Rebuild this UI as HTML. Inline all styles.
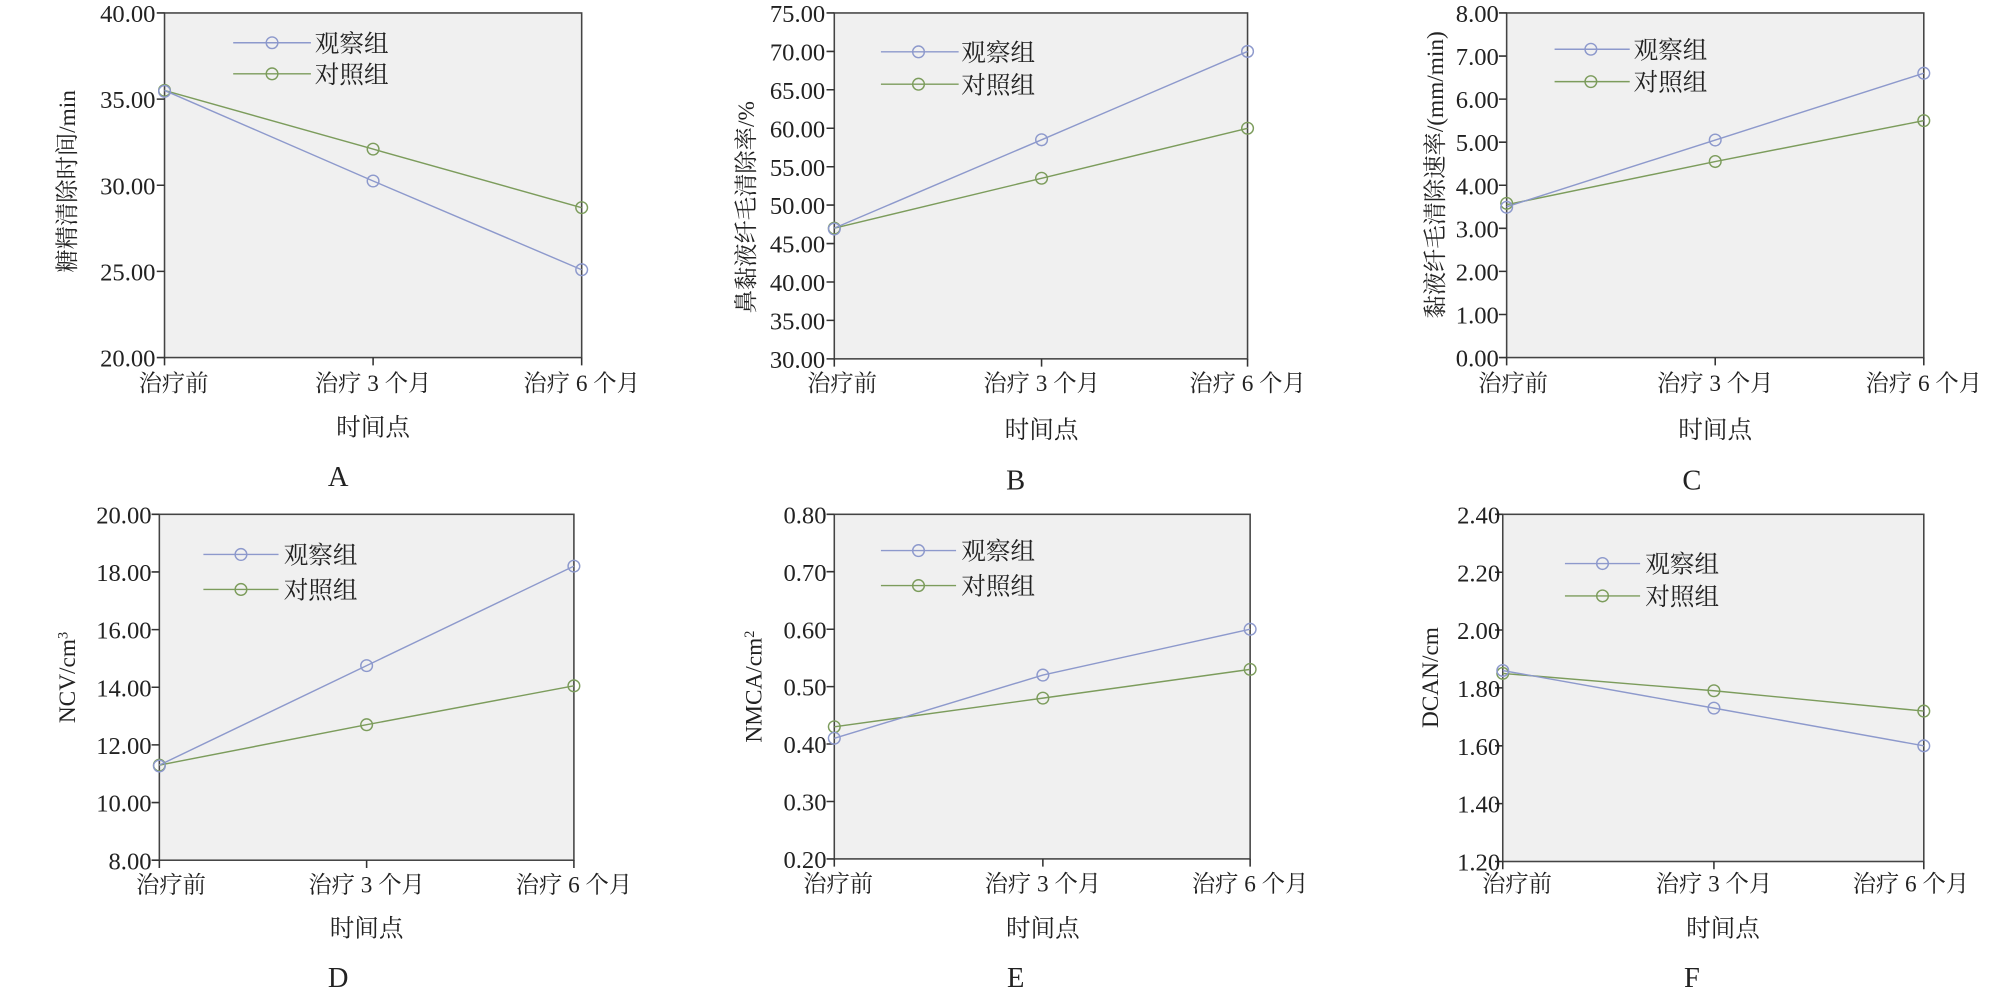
<!DOCTYPE html>
<html><head><meta charset="utf-8"><style>
html,body{margin:0;padding:0;background:#fff}
svg{display:block}
text{font-family:"Liberation Serif","Noto Serif CJK SC",serif;fill:#222}
.t{font-size:19px;text-anchor:end}
.x{font-size:18px;text-anchor:middle}
.lg{font-size:19px}
.ti{font-size:19px;text-anchor:middle}
.pl{font-size:22px;text-anchor:middle}
.yt{font-size:18px;text-anchor:middle}
.bg{fill:#f0f0f0;stroke:#444;stroke-width:1.2}
.ax{stroke:#333;stroke-width:1.2;fill:none}
.o{stroke:#8d99cc;stroke-width:1.1;fill:none}
.c{stroke:#7c9c5c;stroke-width:1.1;fill:none}
.oc{stroke:#8d99cc;stroke-width:1.1;fill:none}
.cc{stroke:#7c9c5c;stroke-width:1.1;fill:none}
</style></head><body>
<svg width="2008" height="993" viewBox="0 0 1550 766.5" xmlns="http://www.w3.org/2000/svg">

<!-- Panel A -->
<rect class="bg" x="127" y="10" width="322" height="266"/>
<path class="ax" d="M121 10H127M121 76.5H127M121 143H127M121 209.5H127M121 276H127M127 276V282M288 276V282M449 276V282"/>
<text class="t" x="120" y="17">40.00</text><text class="t" x="120" y="83.5">35.00</text><text class="t" x="120" y="150">30.00</text><text class="t" x="120" y="216.5">25.00</text><text class="t" x="120" y="283">20.00</text>
<text class="x" x="134" y="302">治疗前</text><text class="x" x="288" y="302">治疗 3 个月</text><text class="x" x="449" y="302">治疗 6 个月</text>
<text class="ti" x="288" y="336">时间点</text><text class="pl" x="261" y="375">A</text>
<text class="yt" transform="translate(58,140) rotate(-90)">糖精清除时间/min</text>
<polyline class="c" points="127,69.8 288,115.1 449,160.3"/><polyline class="o" points="127,69.8 288,139.7 449,208.2"/>
<g class="cc"><circle cx="127" cy="69.8" r="4.5"/><circle cx="288" cy="115.1" r="4.5"/><circle cx="449" cy="160.3" r="4.5"/></g>
<g class="oc"><circle cx="127" cy="70.5" r="4.5"/><circle cx="288" cy="139.7" r="4.5"/><circle cx="449" cy="208.2" r="4.5"/></g>
<path class="o" d="M180 33H240"/><circle class="oc" cx="210" cy="33" r="4.5"/><path class="c" d="M180 57H240"/><circle class="cc" cx="210" cy="57" r="4.5"/>
<text class="lg" x="243" y="40">观察组</text><text class="lg" x="243" y="64">对照组</text>

<!-- Panel B -->
<rect class="bg" x="644" y="10" width="319" height="267"/>
<path class="ax" d="M638 10H644M638 39.7H644M638 69.3H644M638 99H644M638 128.7H644M638 158.3H644M638 188H644M638 217.7H644M638 247.3H644M638 277H644M644 277V283M804 277V283M963 277V283"/>
<text class="t" x="637" y="17">75.00</text><text class="t" x="637" y="46.7">70.00</text><text class="t" x="637" y="76.3">65.00</text><text class="t" x="637" y="106">60.00</text><text class="t" x="637" y="135.7">55.00</text><text class="t" x="637" y="165.3">50.00</text><text class="t" x="637" y="195">45.00</text><text class="t" x="637" y="224.7">40.00</text><text class="t" x="637" y="254.3">35.00</text><text class="t" x="637" y="284">30.00</text>
<text class="x" x="650" y="302">治疗前</text><text class="x" x="804" y="302">治疗 3 个月</text><text class="x" x="963" y="302">治疗 6 个月</text>
<text class="ti" x="804" y="338">时间点</text><text class="pl" x="784" y="378">B</text>
<text class="yt" transform="translate(582,160) rotate(-90)">鼻黏液纤毛清除率/%</text>
<polyline class="c" points="644,176.1 804,137.6 963,99"/><polyline class="o" points="644,176.1 804,107.9 963,39.7"/>
<g class="cc"><circle cx="644" cy="176.1" r="4.5"/><circle cx="804" cy="137.6" r="4.5"/><circle cx="963" cy="99" r="4.5"/></g>
<g class="oc"><circle cx="644" cy="176.8" r="4.5"/><circle cx="804" cy="107.9" r="4.5"/><circle cx="963" cy="39.7" r="4.5"/></g>
<path class="o" d="M680 40H740"/><circle class="oc" cx="709" cy="40" r="4.5"/><path class="c" d="M680 65H740"/><circle class="cc" cx="709" cy="65" r="4.5"/>
<text class="lg" x="742" y="47">观察组</text><text class="lg" x="742" y="72">对照组</text>

<!-- Panel C -->
<rect class="bg" x="1163" y="10" width="322" height="266"/>
<path class="ax" d="M1157 10H1163M1157 43.25H1163M1157 76.5H1163M1157 109.75H1163M1157 143H1163M1157 176.25H1163M1157 209.5H1163M1157 242.75H1163M1157 276H1163M1163 276V282M1324 276V282M1485 276V282"/>
<text class="t" x="1157" y="17">8.00</text><text class="t" x="1157" y="50.25">7.00</text><text class="t" x="1157" y="83.5">6.00</text><text class="t" x="1157" y="116.75">5.00</text><text class="t" x="1157" y="150">4.00</text><text class="t" x="1157" y="183.25">3.00</text><text class="t" x="1157" y="216.5">2.00</text><text class="t" x="1157" y="249.75">1.00</text><text class="t" x="1157" y="283">0.00</text>
<text class="x" x="1168" y="302">治疗前</text><text class="x" x="1324" y="302">治疗 3 个月</text><text class="x" x="1485" y="302">治疗 6 个月</text>
<text class="ti" x="1324" y="338">时间点</text><text class="pl" x="1306" y="378">C</text>
<text class="yt" transform="translate(1114,135) rotate(-90)">黏液纤毛清除速率/(mm/min)</text>
<polyline class="c" points="1163,158 1324,124.7 1485,93.1"/><polyline class="o" points="1163,159.6 1324,108.1 1485,56.5"/>
<g class="cc"><circle cx="1163" cy="157" r="4.5"/><circle cx="1324" cy="124.7" r="4.5"/><circle cx="1485" cy="93.1" r="4.5"/></g>
<g class="oc"><circle cx="1163" cy="160" r="4.5"/><circle cx="1324" cy="108.1" r="4.5"/><circle cx="1485" cy="56.5" r="4.5"/></g>
<path class="o" d="M1200 38H1258"/><circle class="oc" cx="1228" cy="38" r="4.5"/><path class="c" d="M1200 63H1258"/><circle class="cc" cx="1228" cy="63" r="4.5"/>
<text class="lg" x="1261" y="45">观察组</text><text class="lg" x="1261" y="70">对照组</text>

<!-- Panel D -->
<rect class="bg" x="123" y="397" width="320" height="267"/>
<path class="ax" d="M117 397H123M117 441.5H123M117 486H123M117 530.5H123M117 575H123M117 619.5H123M117 664H123M123 664V670M283 664V670M443 664V670"/>
<text class="t" x="117" y="404">20.00</text><text class="t" x="117" y="448.5">18.00</text><text class="t" x="117" y="493">16.00</text><text class="t" x="117" y="537.5">14.00</text><text class="t" x="117" y="582">12.00</text><text class="t" x="117" y="626.5">10.00</text><text class="t" x="117" y="671">8.00</text>
<text class="x" x="132" y="689">治疗前</text><text class="x" x="283" y="689">治疗 3 个月</text><text class="x" x="443" y="689">治疗 6 个月</text>
<text class="ti" x="283" y="723">时间点</text><text class="pl" x="261" y="762">D</text>
<text class="yt" transform="translate(58,523) rotate(-90)">NCV/cm<tspan dy="-6" font-size="11">3</tspan></text>
<polyline class="c" points="123,590.6 283,559.4 443,529.4"/><polyline class="o" points="123,590.6 283,513.8 443,437"/>
<g class="cc"><circle cx="123" cy="590.6" r="4.5"/><circle cx="283" cy="559.4" r="4.5"/><circle cx="443" cy="529.4" r="4.5"/></g>
<g class="oc"><circle cx="123" cy="591.3" r="4.5"/><circle cx="283" cy="513.8" r="4.5"/><circle cx="443" cy="437" r="4.5"/></g>
<path class="o" d="M157 428H215"/><circle class="oc" cx="186" cy="428" r="4.5"/><path class="c" d="M157 455H215"/><circle class="cc" cx="186" cy="455" r="4.5"/>
<text class="lg" x="219" y="435">观察组</text><text class="lg" x="219" y="462">对照组</text>

<!-- Panel E -->
<rect class="bg" x="644" y="397" width="321" height="266"/>
<path class="ax" d="M638 397H644M638 441.3H644M638 485.7H644M638 530H644M638 574.3H644M638 618.7H644M638 663H644M644 663V669M805 663V669M965 663V669"/>
<text class="t" x="638" y="404">0.80</text><text class="t" x="638" y="448.3">0.70</text><text class="t" x="638" y="492.7">0.60</text><text class="t" x="638" y="537">0.50</text><text class="t" x="638" y="581.3">0.40</text><text class="t" x="638" y="625.7">0.30</text><text class="t" x="638" y="670">0.20</text>
<text class="x" x="647" y="688">治疗前</text><text class="x" x="805" y="688">治疗 3 个月</text><text class="x" x="965" y="688">治疗 6 个月</text>
<text class="ti" x="805" y="723">时间点</text><text class="pl" x="784" y="762">E</text>
<text class="yt" transform="translate(588,530) rotate(-90)">NMCA/cm<tspan dy="-6" font-size="11">2</tspan></text>
<polyline class="c" points="644,561 805,538.9 965,516.7"/><polyline class="o" points="644,569.9 805,521.1 965,485.7"/>
<g class="cc"><circle cx="644" cy="561" r="4.5"/><circle cx="805" cy="538.9" r="4.5"/><circle cx="965" cy="516.7" r="4.5"/></g>
<g class="oc"><circle cx="644" cy="569.9" r="4.5"/><circle cx="805" cy="521.1" r="4.5"/><circle cx="965" cy="485.7" r="4.5"/></g>
<path class="o" d="M680 425H738"/><circle class="oc" cx="709" cy="425" r="4.5"/><path class="c" d="M680 452H738"/><circle class="cc" cx="709" cy="452" r="4.5"/>
<text class="lg" x="742" y="432">观察组</text><text class="lg" x="742" y="459">对照组</text>

<!-- Panel F -->
<rect class="bg" x="1160" y="397" width="325" height="268"/>
<path class="ax" d="M1154 397H1160M1154 441.7H1160M1154 486.3H1160M1154 531H1160M1154 575.7H1160M1154 620.3H1160M1154 665H1160M1160 665V671M1323 665V671M1485 665V671"/>
<text class="t" x="1158" y="404">2.40</text><text class="t" x="1158" y="448.7">2.20</text><text class="t" x="1158" y="493.3">2.00</text><text class="t" x="1158" y="538">1.80</text><text class="t" x="1158" y="582.7">1.60</text><text class="t" x="1158" y="627.3">1.40</text><text class="t" x="1158" y="672">1.20</text>
<text class="x" x="1171" y="688">治疗前</text><text class="x" x="1323" y="688">治疗 3 个月</text><text class="x" x="1475" y="688">治疗 6 个月</text>
<text class="ti" x="1330" y="723">时间点</text><text class="pl" x="1306" y="762">F</text>
<text class="yt" transform="translate(1110,523) rotate(-90)">DCAN/cm</text>
<polyline class="c" points="1160,519.8 1323,533.2 1485,548.9"/><polyline class="o" points="1160,517.6 1323,546.6 1485,575.7"/>
<g class="cc"><circle cx="1160" cy="519.8" r="4.5"/><circle cx="1323" cy="533.2" r="4.5"/><circle cx="1485" cy="548.9" r="4.5"/></g>
<g class="oc"><circle cx="1160" cy="517.6" r="4.5"/><circle cx="1323" cy="546.6" r="4.5"/><circle cx="1485" cy="575.7" r="4.5"/></g>
<path class="o" d="M1208 435H1266"/><circle class="oc" cx="1237" cy="435" r="4.5"/><path class="c" d="M1208 460H1266"/><circle class="cc" cx="1237" cy="460" r="4.5"/>
<text class="lg" x="1270" y="442">观察组</text><text class="lg" x="1270" y="467">对照组</text>
</svg>
</body></html>
